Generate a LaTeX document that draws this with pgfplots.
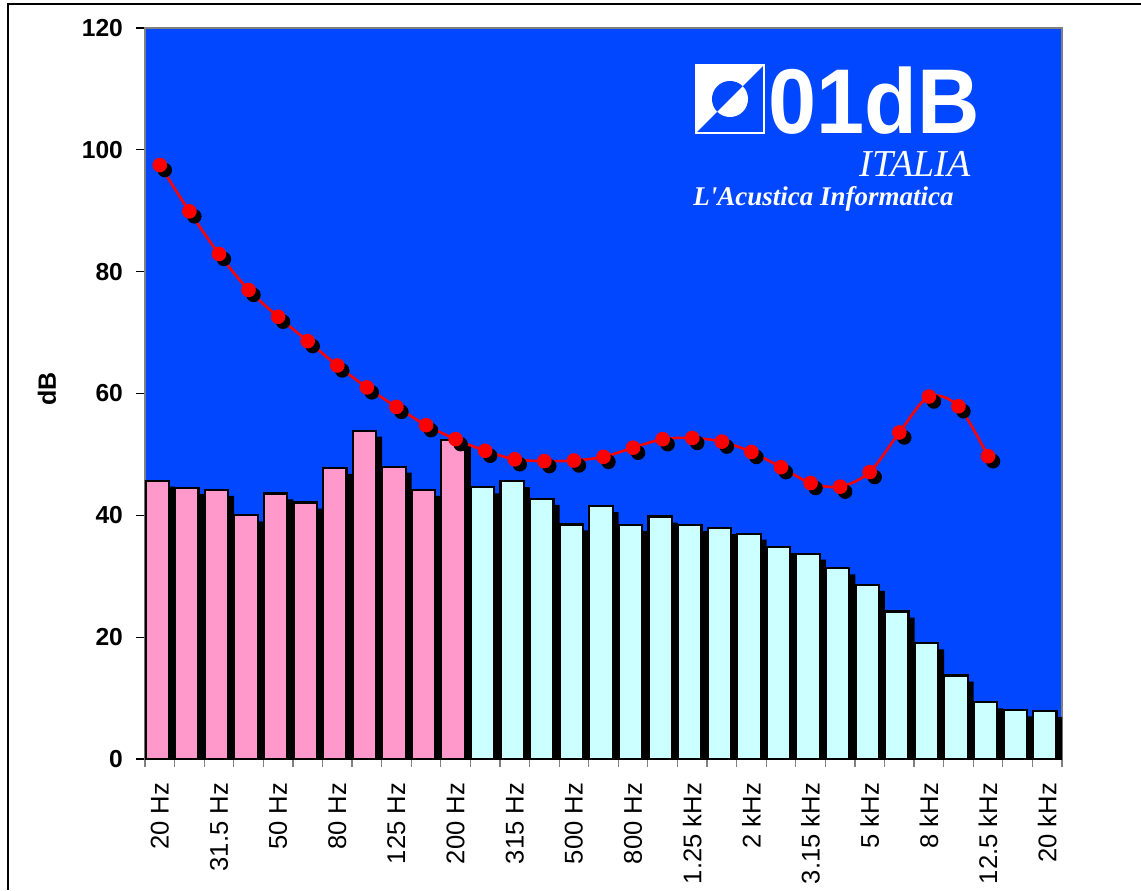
\documentclass[border=0pt]{standalone}
\usepackage{pgfplots}
\pgfplotsset{compat=1.18}
\usepackage{pgfplotstable}
\usepackage{fontspec}
\setmainfont{Liberation Sans}
\newfontfamily\seriffont{Liberation Serif}
\definecolor{bgblue}{RGB}{0,71,255}
\definecolor{barpink}{RGB}{255,153,204}
\definecolor{barcyan}{RGB}{204,255,255}
\definecolor{framegray}{RGB}{128,128,128}

\pgfplotstableread{
x  y
0  45.7
1  44.5
2  44.2
3  40.0
4  43.6
5  42.1
6  47.8
7  53.9
8  48.0
9  44.2
10 52.4
}\pinkbars
\pgfplotstableread{
x  y
11 44.6
12 45.6
13 42.7
14 38.5
15 41.5
16 38.4
17 39.8
18 38.4
19 37.9
20 37.0
21 34.8
22 33.7
23 31.3
24 28.6
25 24.2
26 19.0
27 13.7
28 9.3
29 8.0
30 7.9
}\cyanbars
\pgfplotstableread{
x  y
0  97.5
1  89.9
2  82.9
3  77.0
4  72.6
5  68.6
6  64.6
7  61.0
8  57.8
9  54.8
10 52.5
11 50.6
12 49.2
13 48.9
14 49.0
15 49.6
16 51.1
17 52.5
18 52.7
19 52.1
20 50.4
21 47.9
22 45.3
23 44.7
24 47.1
25 53.6
26 59.5
27 57.9
28 49.7
}\curve

\begin{document}
\begin{tikzpicture}
\path[use as bounding box] (-72.5pt,-65.5pt) rectangle (498pt,379.5pt);
\begin{axis}[
  at={(0pt,0pt)}, anchor=south west,
  scale only axis, width=458.5pt, height=365.5pt,
  xmin=-0.5, xmax=30.5, ymin=0, ymax=120,
  axis background/.style={fill=bgblue},
  axis line style={draw=framegray, line width=0.75pt},
  tick pos=left, tick align=outside,
  ytick={0,20,...,120},
  xtick={0,2,...,30},
  xticklabels={20 Hz,31.5 Hz,50 Hz,80 Hz,125 Hz,200 Hz,315 Hz,500 Hz,800 Hz,1.25 kHz,2 kHz,3.15 kHz,5 kHz,8 kHz,12.5 kHz,20 kHz},
  minor xtick={-0.5,0.5,...,30.5},
  major x tick style={draw=none},
  minor x tick style={framegray, line width=0.6pt},
  y tick style={black, line width=0.6pt},
  major tick length=4.5pt, minor tick length=4pt,
  /pgf/number format/assume math mode=true,
  yticklabel style={font=\bfseries\fontsize{12.3}{12.3}\selectfont},
  yticklabel shift=3pt,
  xticklabel style={font=\fontsize{12.8}{12.8}\selectfont, rotate=90, anchor=east},
  xticklabel shift=4pt,
  clip=true,
]
\addplot[ybar, bar width=11.7pt, bar shift=1.75pt, fill=black, draw=none, yshift=-3pt] table {\pinkbars};
\addplot[ybar, bar width=11.7pt, bar shift=1.75pt, fill=black, draw=none, yshift=-3pt] table {\cyanbars};
\addplot[ybar, bar width=11.7pt, bar shift=-1.25pt, fill=barpink, draw=black, line width=1.1pt] table {\pinkbars};
\addplot[ybar, bar width=11.7pt, bar shift=-1.25pt, fill=barcyan, draw=black, line width=1.1pt] table {\cyanbars};
\addplot[only marks, mark=*, mark size=3.4pt, black, xshift=2.5pt, yshift=-2.5pt] table {\curve};
\addplot[red, line width=1.3pt, smooth, mark=*, mark size=3.4pt, mark options={fill=red, draw=red, line width=0.5pt}] table {\curve};
\end{axis}
\begin{scope}[x=0.5pt,y=0.5pt]
\draw[line width=0.75pt] (-137,-131) -- (-137,755) -- (996,755);
\node[rotate=90, font=\bfseries\fontsize{12.5}{12.5}\selectfont] at (-98,370) {dB};
% logo
\fill[white] (551,626) rectangle (619,694);
\fill[bgblue] (551,626) -- (619,626) -- (619,694) -- cycle;
\fill[bgblue] (585,660) -- ++(45:18) arc[start angle=45, end angle=225, radius=18] -- cycle;
\fill[white] (585,660) -- ++(225:18) arc[start angle=225, end angle=405, radius=18] -- cycle;
\draw[white, line width=0.6pt] (551,626) rectangle (619,694);
\node[anchor=base west, inner sep=0pt, white, xscale=0.94, font=\bfseries\fontsize{46}{46}\selectfont] at (623,625) {01dB};
\node[anchor=base west, inner sep=0pt, white, font=\seriffont\itshape\fontsize{19}{19}\selectfont] at (714,582) {ITALIA};
\node[anchor=base west, inner sep=0pt, white, font=\seriffont\bfseries\itshape\fontsize{13.5}{13.5}\selectfont] at (548,553) {L'Acustica Informatica};
\end{scope}
\end{tikzpicture}
\end{document}
